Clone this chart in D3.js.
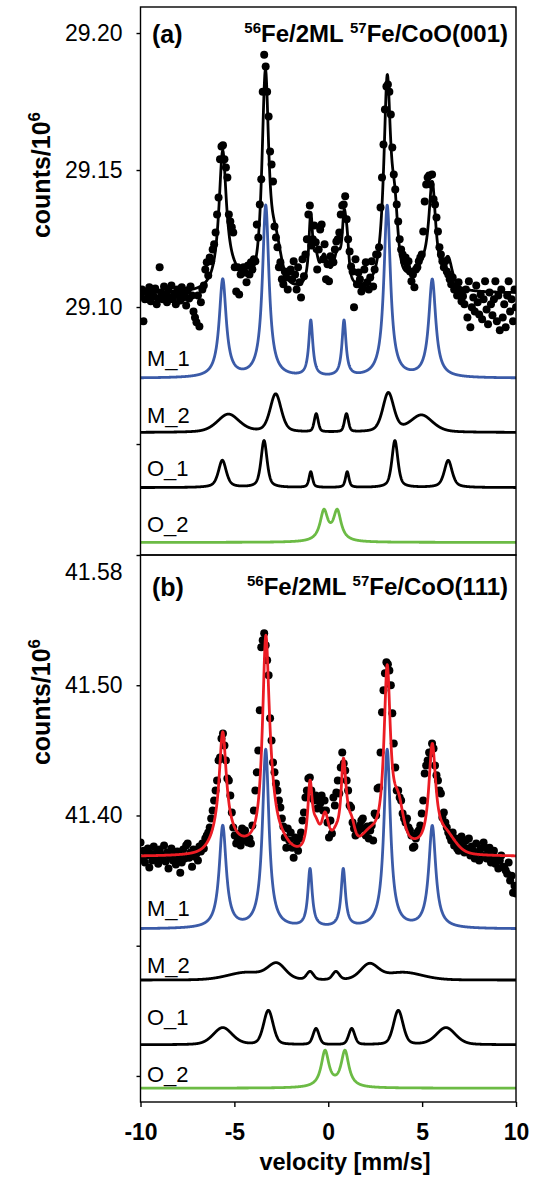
<!DOCTYPE html>
<html>
<head>
<meta charset="utf-8">
<script src="https://cdn.jsdelivr.net/npm/d3@7"></script>
<style>
  body { margin: 0; background: #fff; }
  svg text { font-family: "Liberation Sans", Arial, Helvetica, sans-serif; fill: #000; }
</style>
</head>
<body>
<svg id="chart" width="537" height="1178"></svg>
<script>
// ---- velocity axis (folded spectra, equally spaced channels) ----
const velocityRange = [-10, 10];
const xTicks = [-10, -5, 0, 5, 10];

// ---- measured counts / 10^6, panel (a): 56Fe/2ML 57Fe/CoO(001) ----
const countsA = [
  29.1042, 29.1064, 29.0948, 29.1028, 29.1057, 29.1035, 29.1072, 29.1021, 29.1050, 29.1039,
  29.1068, 29.1010, 29.1031, 29.1145, 29.1053, 29.1028, 29.1075, 29.1042, 29.1017, 29.1061,
  29.1035, 29.1079, 29.1028, 29.1046, 29.1010, 29.1064, 29.1042, 29.1024, 29.1072, 29.1035,
  29.1053, 29.1006, 29.1061, 29.1031, 29.1075, 29.1042, 29.0984, 29.0962, 29.0944, 29.1042,
  29.0929, 29.1017, 29.1064,
  29.1079, 29.1137, 29.1163, 29.1115, 29.1181, 29.1167, 29.1210, 29.1229, 29.1272, 29.1338,
  29.1400, 29.1539, 29.1586, 29.1590, 29.1539, 29.1509, 29.1473, 29.1338, 29.1312, 29.1291,
  29.1272, 29.1145, 29.1057, 29.1145, 29.1046, 29.1119, 29.1130, 29.1145,
  29.1126, 29.1090, 29.1152, 29.1119, 29.1163, 29.1137, 29.1174, 29.1167, 29.1301, 29.1254,
  29.1374, 29.1466, 29.1786, 29.1921, 29.1878, 29.1786, 29.1695, 29.1568, 29.1520, 29.1458,
  29.1294, 29.1254, 29.1218, 29.1145, 29.1163, 29.1101, 29.1083, 29.1130, 29.1108, 29.1064,
  29.1130, 29.1137, 29.1101, 29.1167, 29.1119, 29.1064, 29.1145, 29.1090, 29.1035, 29.1174,
  29.1112, 29.1192, 29.1247, 29.1338, 29.1371, 29.1225, 29.1247, 29.1298, 29.1236, 29.1137,
  29.1210, 29.1283, 29.1301, 29.1174, 29.1229, 29.1101, 29.1156, 29.1094, 29.1185, 29.1163,
  29.1163, 29.1210, 29.1239, 29.1247, 29.1272, 29.1338, 29.1371, 29.1374, 29.1404, 29.1320,
  29.1247, 29.1203, 29.1148, 29.1130, 29.0999, 29.1174, 29.1083, 29.1126, 29.1101, 29.1057,
  29.1075, 29.1137, 29.1163, 29.1090, 29.1064, 29.1108, 29.1167, 29.1075, 29.1137, 29.1192,
  29.1192, 29.1218, 29.1363, 29.1473, 29.1593, 29.1721, 29.1805, 29.1812, 29.1786, 29.1703,
  29.1582, 29.1484, 29.1429, 29.1374, 29.1312, 29.1247, 29.1210, 29.1192, 29.1167, 29.1181,
  29.1145, 29.1167, 29.1130, 29.1094, 29.1119, 29.1072, 29.1137, 29.1145, 29.1167, 29.1181,
  29.1192, 29.1276, 29.1385, 29.1447, 29.1473, 29.1480, 29.1447, 29.1484, 29.1393, 29.1374,
  29.1327, 29.1276, 29.1218, 29.1192, 29.1167, 29.1145, 29.1167, 29.1130, 29.1119, 29.1101,
  29.1083, 29.1108, 29.1064, 29.1072, 29.1042, 29.1090, 29.1057, 29.1021, 29.1039, 29.1010,
  29.1064, 29.0962, 29.1094, 29.0926, 29.0999, 29.1035, 29.0984, 29.1079, 29.1017, 29.0973,
  29.1046, 29.0955, 29.1028, 29.1094, 29.0991, 29.0937, 29.1053, 29.1010, 29.0970, 29.1028,
  29.1094, 29.0948, 29.1042, 29.0915, 29.1064, 29.0962, 29.1010, 29.0926, 29.1042, 29.1094,
  29.0984, 29.1028, 29.0948, 29.1064, 29.0999
];

// ---- measured counts / 10^6, panel (b): 56Fe/2ML 57Fe/CoO(111) ----
const countsB = [
  41.3792, 41.3669, 41.3730, 41.3638, 41.3692, 41.3746, 41.3600, 41.3707, 41.3654, 41.3761,
  41.3676, 41.3715, 41.3630, 41.3738, 41.3669, 41.3692, 41.3769, 41.3646, 41.3715, 41.3592,
  41.3684, 41.3746, 41.3654, 41.3700, 41.3623, 41.3723, 41.3676, 41.3561, 41.3638, 41.3738,
  41.3669, 41.3769, 41.3784, 41.3676, 41.3715, 41.3607, 41.3738, 41.3684, 41.3707, 41.3654,
  41.3761, 41.3723, 41.3784, 41.3746, 41.3823, 41.3846,
  41.3869, 41.3907, 41.3977, 41.4038, 41.4115, 41.4192, 41.4269, 41.4423, 41.4446, 41.4592,
  41.4630, 41.4538, 41.4423, 41.4284, 41.4269, 41.4154, 41.4023, 41.3907, 41.3846, 41.3784,
  41.3823, 41.3861, 41.3769, 41.3900, 41.3807, 41.3884, 41.3838, 41.3792, 41.3823, 41.3784,
  41.3923, 41.4038, 41.4192, 41.4331, 41.4499, 41.4807, 41.5292, 41.5345, 41.5399, 41.5307,
  41.5191, 41.5076, 41.4746, 41.4576, 41.4407, 41.4331, 41.4246, 41.4192, 41.4115, 41.4061,
  41.3977, 41.3915, 41.3830, 41.3753,
  41.3900, 41.3807, 41.3869, 41.3753, 41.3676, 41.3830, 41.3784, 41.3730, 41.3823, 41.3869,
  41.3961, 41.4023, 41.4138, 41.4192, 41.4284, 41.4292, 41.4192, 41.4130, 41.4115, 41.4154,
  41.4053, 41.4115, 41.4092, 41.4154, 41.4038, 41.4115, 41.4038, 41.3946, 41.3830, 41.3961,
  41.3861,
  41.4138, 41.4077, 41.4177, 41.4269, 41.4169, 41.4369, 41.4484, 41.4400, 41.4346, 41.4269,
  41.4192, 41.4077, 41.4061, 41.3946, 41.3900, 41.3846, 41.3861, 41.3884, 41.3923, 41.3961,
  41.3977, 41.3900, 41.3846, 41.3915, 41.3823, 41.3884, 41.3923, 41.3807, 41.4015, 41.4000,
  41.4207, 41.4215, 41.4484, 41.4792, 41.4961, 41.5092, 41.5176, 41.5161, 41.5114, 41.4999,
  41.4784, 41.4553, 41.4369, 41.4192, 41.4192, 41.4138, 41.4115, 41.4015, 41.3977, 41.3946,
  41.3977, 41.3907, 41.3884, 41.3846, 41.3753, 41.3761, 41.3823, 41.3869, 41.3884, 41.3923,
  41.4015, 41.4115, 41.4323, 41.4384, 41.4423, 41.4484, 41.4476, 41.4553, 41.4515, 41.4384,
  41.4308, 41.4269, 41.4192, 41.4169, 41.3984, 41.4023, 41.3946, 41.3907, 41.3869, 41.3838,
  41.3807, 41.3869, 41.3769, 41.3823, 41.3746, 41.3730, 41.3792, 41.3838, 41.3769, 41.3715,
  41.3807, 41.3746, 41.3823, 41.3692, 41.3761, 41.3730, 41.3669, 41.3784, 41.3715, 41.3654,
  41.3746, 41.3692, 41.3792, 41.3753, 41.3669, 41.3715, 41.3753, 41.3638, 41.3692, 41.3730,
  41.3630, 41.3669, 41.3592, 41.3654, 41.3692, 41.3607, 41.3600, 41.3577, 41.3553, 41.3638,
  41.3500, 41.3538, 41.3407, 41.3461, 41.3400
];

// ---- fitted subspectra: [line position mm/s, amplitude (counts/10^6), FWHM mm/s] ----
const M1_a = [[-5.62, 0.0357, 0.45], [-3.33, 0.0627, 0.42], [-0.93, 0.0204, 0.26],
              [0.84, 0.0204, 0.26], [3.14, 0.0627, 0.42], [5.54, 0.0357, 0.45]];
const M2_a = [[-5.32, 0.0066, 1.4], [-2.80, 0.0139, 0.7], [-0.64, 0.0066, 0.25],
              [0.97, 0.0066, 0.25], [3.20, 0.0142, 0.7], [4.97, 0.0062, 1.4]];
const O1_a = [[-5.64, 0.0099, 0.5], [-3.42, 0.0171, 0.38], [-0.93, 0.0057, 0.22],
              [1.01, 0.0057, 0.22], [3.55, 0.0171, 0.38], [6.39, 0.0099, 0.5]];
const O2_a = [[-0.23, 0.0109, 0.5], [0.48, 0.0109, 0.5]];

const M1_b = [[-5.62, 0.0784, 0.45], [-3.33, 0.1369, 0.42], [-0.97, 0.0446, 0.28],
              [0.80, 0.0446, 0.28], [3.14, 0.1369, 0.42], [5.54, 0.0784, 0.45]];
const M2_b = [[-4.34, 0.0058, 2.4], [-2.74, 0.0115, 1.1], [-0.97, 0.0062, 0.42],
              [0.41, 0.0062, 0.42], [2.19, 0.0115, 1.1], [4.00, 0.0058, 2.4]];
const O1_b = [[-5.62, 0.0131, 1.2], [-3.19, 0.0262, 0.6], [-0.65, 0.0123, 0.38],
              [1.25, 0.0123, 0.38], [3.73, 0.0262, 0.6], [6.27, 0.0131, 1.2]];
const O2_b = [[-0.17, 0.0277, 0.5], [0.89, 0.0277, 0.5]];

// baselines of the offset subspectra (M_1, M_2, O_1, O_2) and of the total fit
const baseA = [29.0740, 29.0542, 29.0341, 29.0141];
const fitBaseA = 29.1050;
const baseB = [41.3128, 41.2736, 41.2239, 41.1906];
const fitBaseB = 41.3684;

// Lorentzian fraction of the pseudo-Voigt line shape of each subspectrum
const shapeA = [1, 0.4, 0.6, 1];
const shapeB = [1, 0.2, 0.3, 1];

const subLabels = ["M_1", "M_2", "O_1", "O_2"];
const subColors = ["#3b5ba8", "#000000", "#000000", "#6cbb45"];

// y axis ticks and labelled values
const yTicksA = [29.05, 29.10, 29.15, 29.20];
const yLabelsA = [29.10, 29.15, 29.20];
const yTicksB = [41.20, 41.30, 41.40, 41.50, 41.60];
const yLabelsB = [41.40, 41.50];
const yTopLabelB = 41.58;

// ---- drawing ----
const svg = d3.select("#chart");
const left = 140.5, right = 516;
const x = d3.scaleLinear().domain(velocityRange).range([left, right]);

const panels = [
  { id: "a", top: 7, bottom: 555, domain: [29.0095, 29.2095],
    counts: countsA, comps: [M1_a, M2_a, O1_a, O2_a], bases: baseA, fitBase: fitBaseA,
    shape: shapeA, lift: [12, 10, 12, 10], fitColor: "#000000",
    ticks: yTicksA, labels: yLabelsA, letter: "(a)", letterY: 43, titleY: 42,
    sample: ["56", "Fe/2ML ", "57", "Fe/CoO(001)"], axisTitleY: 175 },
  { id: "b", top: 555, bottom: 1102, domain: [41.18, 41.60],
    counts: countsB, comps: [M1_b, M2_b, O1_b, O2_b], bases: baseB, fitBase: fitBaseB,
    shape: shapeB, lift: [13, 7, 20, 6], fitColor: "#ec1c24",
    ticks: yTicksB, labels: yLabelsB, letter: "(b)", letterY: 596, titleY: 595,
    sample: ["56", "Fe/2ML ", "57", "Fe/CoO(111)"], axisTitleY: 702 }
];

// pseudo-Voigt line: eta = Lorentzian fraction
function lineShape(v, ln, eta) {
  const t = (v - ln[0]) / ln[2];
  const lor = 1 / (1 + 4 * t * t);
  const gau = Math.exp(-4 * Math.LN2 * t * t);
  return ln[1] * (eta * lor + (1 - eta) * gau);
}
function subspectrum(v, lines, eta) {
  return d3.sum(lines, ln => lineShape(v, ln, eta));
}

const grid = d3.range(0, 2001).map(k => velocityRange[0] + k * 0.01);

panels.forEach(p => {
  const y = d3.scaleLinear().domain(p.domain).range([p.bottom, p.top]);
  const g = svg.append("g");

  g.append("clipPath").attr("id", "clip-" + p.id)
    .append("rect").attr("x", left).attr("y", p.top)
    .attr("width", right - left).attr("height", p.bottom - p.top);

  const plot = g.append("g").attr("clip-path", `url(#clip-${p.id})`);
  const line = d3.line().x(d => x(d[0])).y(d => y(d[1]));

  // offset subspectra
  p.comps.forEach((lines, k) => {
    const pts = grid.map(v => [v, p.bases[k] + subspectrum(v, lines, p.shape[k])]);
    plot.append("path").attr("d", line(pts))
      .attr("fill", "none").attr("stroke", subColors[k])
      .attr("stroke-width", 2.8).attr("stroke-linejoin", "round");
    g.append("text").attr("x", 147).attr("y", y(p.bases[k]) - p.lift[k])
      .attr("font-size", 22).text(subLabels[k]);
  });

  // measured points
  const n = p.counts.length;
  const step = (velocityRange[1] - velocityRange[0]) / (n - 1);
  plot.selectAll("circle.pt").data(p.counts).join("circle")
    .attr("class", "pt")
    .attr("cx", (d, i) => x(velocityRange[0] + i * step))
    .attr("cy", d => y(d))
    .attr("r", 4).attr("fill", "#000");

  // total fit = baseline + sum of all subspectra
  const fitPts = grid.map(v => [v, p.fitBase +
    d3.sum(p.comps, (lines, k) => subspectrum(v, lines, p.shape[k]))]);
  plot.append("path").attr("d", line(fitPts))
    .attr("fill", "none").attr("stroke", p.fitColor)
    .attr("stroke-width", 2.8).attr("stroke-linejoin", "round");

  // frame
  g.append("rect").attr("x", left).attr("y", p.top)
    .attr("width", right - left).attr("height", p.bottom - p.top)
    .attr("fill", "none").attr("stroke", "#000").attr("stroke-width", 1.4);

  // y axis
  const ax = g.append("g").attr("transform", `translate(${left},0)`)
    .call(d3.axisLeft(y).tickValues(p.ticks).tickSize(4).tickPadding(14)
      .tickFormat(d => p.labels.includes(d) ? d.toFixed(2) : ""));
  ax.select(".domain").remove();
  ax.selectAll("line").attr("stroke", "#000").attr("stroke-width", 1.4);
  ax.selectAll("text").attr("font-size", 23).attr("fill", "#000")
    .style("font-family", "'Liberation Sans', Arial, Helvetica, sans-serif");

  if (p.id === "b") {
    g.append("text").attr("x", left - 18).attr("y", y(yTopLabelB) - 8)
      .attr("dy", "0.32em").attr("text-anchor", "end").attr("font-size", 23)
      .text(yTopLabelB.toFixed(2));
  }

  // y axis title
  const at = g.append("text")
    .attr("transform", `translate(50,${p.axisTitleY}) rotate(-90)`)
    .attr("text-anchor", "middle").attr("font-size", 25).attr("font-weight", "bold");
  at.append("tspan").text("counts/10");
  at.append("tspan").attr("font-size", 17).attr("dy", -10).text("6");

  // panel letter and sample name
  g.append("text").attr("x", 152).attr("y", p.letterY)
    .attr("font-size", 25).attr("font-weight", "bold").text(p.letter);
  const st = g.append("text").attr("x", 508).attr("y", p.titleY)
    .attr("text-anchor", "end").attr("font-size", 24).attr("font-weight", "bold");
  st.append("tspan").attr("font-size", 15).attr("dy", -9).text(p.sample[0]);
  st.append("tspan").attr("dy", 9).text(p.sample[1]);
  st.append("tspan").attr("font-size", 15).attr("dy", -9).text(p.sample[2]);
  st.append("tspan").attr("dy", 9).text(p.sample[3]);
});

// x axis at the bottom of panel (b)
const xa = svg.append("g").attr("transform", "translate(0,1102)")
  .call(d3.axisBottom(x).tickValues(xTicks).tickSize(5).tickPadding(17)
    .tickFormat(d => String(d)));
xa.select(".domain").remove();
xa.selectAll("line").attr("stroke", "#000").attr("stroke-width", 1.4);
xa.selectAll("text").attr("font-size", 23).attr("font-weight", "bold").attr("fill", "#000")
  .style("font-family", "'Liberation Sans', Arial, Helvetica, sans-serif");

svg.append("text").attr("x", 345).attr("y", 1170).attr("text-anchor", "middle")
  .attr("font-size", 23.5).attr("font-weight", "bold").text("velocity [mm/s]");
</script>
</body>
</html>
